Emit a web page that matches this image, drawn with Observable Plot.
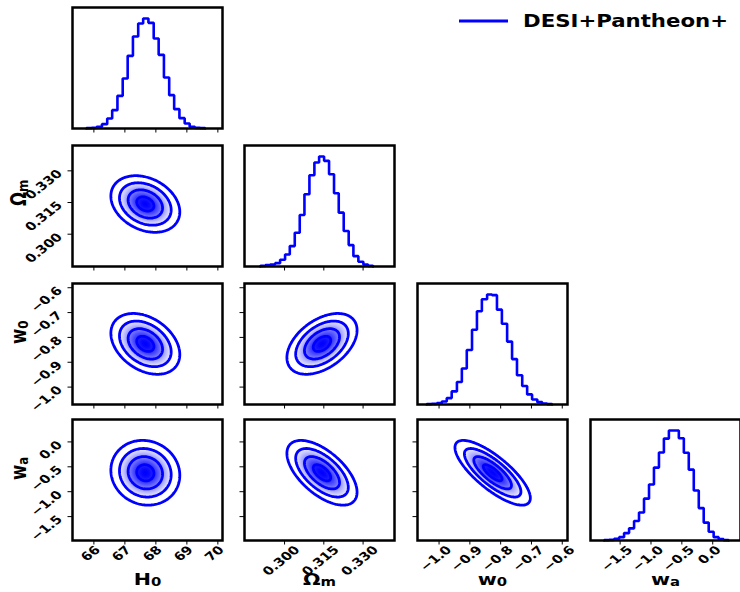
<!DOCTYPE html>
<html><head><meta charset="utf-8">
<script src="https://cdn.jsdelivr.net/npm/d3@7"></script>
<script src="https://cdn.jsdelivr.net/npm/@observablehq/plot@0.6"></script>
<style>
body{margin:0;background:#fff;}
#chart{position:relative;width:740px;height:592px;overflow:hidden;font-family:"DejaVu Sans",sans-serif;background:#fff;}
.panel{position:absolute;}
.panel svg{overflow:visible;display:block;}
</style></head><body><div id="chart"></div>
<script>
// ---------- data ----------
const paramBase = ["H", "Ω", "w", "w"];
const paramSub = ["0", "m", "0", "a"];
const domainH0 = [65.31, 70.15];
const domainOm = [0.2847, 0.3420];
const domainW0 = [-1.070, -0.583];
const domainWa = [-1.98, 0.45];
const ticksH0 = [66, 67, 68, 69, 70];
const ticksOm = [0.300, 0.315, 0.330];
const ticksW0 = [-1.0, -0.9, -0.8, -0.7, -0.6];
const ticksWa = [-1.5, -1.0, -0.5, 0.0];
const tickLabelsH0 = ["66", "67", "68", "69", "70"];
const tickLabelsOm = ["0.300", "0.315", "0.330"];
const tickLabelsW0 = ["−1.0", "−0.9", "−0.8", "−0.7", "−0.6"];
const tickLabelsWa = ["−1.5", "−1.0", "−0.5", "0.0"];

// 1D marginal histograms (bin edges and relative counts)
const edgesH0 = [65.76,65.93,66.09,66.26,66.43,66.59,66.76,66.93,67.09,67.26,67.43,67.59,67.76,67.93,68.09,68.26,68.43,68.59,68.76,68.93,69.09,69.26,69.43,69.59];
const countsH0 = [1,2,5,13,30,55,98,150,218,276,315,330,317,270,221,153,100,58,31,15,5,2,1];
const edgesOm = [0.2908,0.2927,0.2945,0.2964,0.2983,0.3002,0.3020,0.3039,0.3058,0.3076,0.3095,0.3114,0.3132,0.3151,0.3170,0.3189,0.3207,0.3226,0.3245,0.3263,0.3282,0.3301,0.3319,0.3338];
const countsOm = [2,4,6,10,20,36,61,101,154,216,273,311,329,316,276,219,161,106,64,31,14,6,2];
const edgesW0 = [-1.040,-1.024,-1.007,-0.991,-0.975,-0.959,-0.942,-0.926,-0.910,-0.893,-0.877,-0.861,-0.844,-0.828,-0.812,-0.796,-0.779,-0.763,-0.747,-0.730,-0.714,-0.698,-0.681,-0.665,-0.649,-0.633];
const countsW0 = [1,2,4,9,19,39,67,107,162,222,277,313,327,325,282,240,187,135,87,55,30,15,7,3,1];
const edgesWa = [-1.758,-1.677,-1.597,-1.516,-1.436,-1.355,-1.274,-1.194,-1.113,-1.032,-0.952,-0.871,-0.791,-0.710,-0.629,-0.549,-0.468,-0.388,-0.307,-0.226,-0.146,-0.065,0.015,0.096,0.176,0.257];
const countsWa = [1,2,5,10,22,36,58,83,124,166,216,261,302,326,326,303,260,210,148,96,53,26,10,4,1];

// 2D posterior summary (centre, width, correlation)
const means = [67.66, 0.3143, -0.826, -0.62];
const sigmas = [0.556, 0.0067, 0.0612, 0.325];
const pairX = [0, 0, 0, 1, 1, 2];
const pairY = [1, 2, 3, 2, 3, 3];
const pairRho = [-0.28, -0.35, -0.08, 0.45, -0.6, -0.78];
const sigmaLevels = [0.5, 1, 1.5, 2];

const legendLabel = "DESI+Pantheon+";

// ---------- layout ----------
const domains = [domainH0, domainOm, domainW0, domainWa];
const ticks = [ticksH0, ticksOm, ticksW0, ticksWa];
const tickLabels = [tickLabelsH0, tickLabelsOm, tickLabelsW0, tickLabelsWa];
const edges = [edgesH0, edgesOm, edgesW0, edgesWa];
const counts = [countsH0, countsOm, countsW0, countsWa];
const colLeft = [72, 244.3, 416.7, 590];
const rowTop = [6.7, 144.7, 282.7, 419.4];
const PW = 150, PH = 121;
const BLUE = "#0000ff";
const FS = 11.5, STRETCH = 1.25, TITLE_FS = 16.5;

const ctx = document.createElement("canvas").getContext("2d");
ctx.font = `bold ${FS}px "DejaVu Sans"`;
function ext(label) { return (ctx.measureText(label).width + 0.73 * FS) * Math.SQRT1_2; }

function density(i, j, rho) {
  const mx = means[i], my = means[j], sx = sigmas[i], sy = sigmas[j];
  return (x, y) => {
    const u = (x - mx) / sx, v = (y - my) / sy;
    return Math.exp(-0.5 * (u * u - 2 * rho * u * v + v * v) / (1 - rho * rho));
  };
}
function stepPoints(e, c) {
  const pts = [{x: e[0], y: 0}];
  c.forEach((v, k) => pts.push({x: e[k], y: v}));
  pts.push({x: e[c.length], y: c[c.length - 1]});
  pts.push({x: e[c.length], y: 0});
  return pts;
}

const chart = document.getElementById("chart");
const textStyle = {fontSize: FS, fontWeight: "bold", fill: "black", fontFamily: "DejaVu Sans"};

function panel(r, c) {
  const marks = [];
  const xd = domains[c];
  const isHist = r === c;
  let yd;
  if (isHist) {
    yd = [0, 1.1 * d3.max(counts[r])];
    marks.push(Plot.line(stepPoints(edges[r], counts[r]), {x: "x", y: "y", curve: "step-after", stroke: BLUE, strokeWidth: 2.6, strokeLinejoin: "miter"}));
  } else {
    yd = domains[r];
    const k = pairX.findIndex((px, q) => px === c && pairY[q] === r);
    const f = density(c, r, pairRho[k]);
    marks.push(Plot.raster({x1: xd[0], x2: xd[1], y1: yd[0], y2: yd[1], pixelSize: 1,
      fill: (x, y) => Math.max(0, (f(x, y) - 0.28) / 0.72)}));
    marks.push(Plot.contour({x1: xd[0], x2: xd[1], y1: yd[0], y2: yd[1], pixelSize: 1, value: f,
      thresholds: sigmaLevels.map(s => Math.exp(-0.5 * s * s)), fill: "none", stroke: BLUE, strokeWidth: 2.8}));
  }
  marks.push(Plot.frame({stroke: "black", strokeWidth: 2.5}));
  if (r === 3) {
    ticks[c].forEach((v, q) => {
      const t = tickLabels[c][q];
      marks.push(Plot.text([v], {x: d => d, frameAnchor: "bottom", text: () => t, rotate: -45, textAnchor: "middle", dy: 7 + ext(t) / 2, ...textStyle}));
    });
    marks.push(Plot.text([c], {frameAnchor: "bottom", text: () => paramBase[c] + paramSub[c], dy: 44, fontSize: TITLE_FS, fontWeight: "bold", fill: "black", className: "axtitle", rotate: 0}));
  }
  if (c === 0 && r > 0) {
    ticks[r].forEach((v, q) => {
      const t = tickLabels[r][q];
      const e = ext(t);
      marks.push(Plot.text([v], {y: d => d, frameAnchor: "left", text: () => t, rotate: -45, textAnchor: "middle", dx: -(9 + STRETCH * e / 2), dy: -2 + e / 2, ...textStyle}));
    });
    marks.push(Plot.text([r], {frameAnchor: "left", text: () => paramBase[r] + paramSub[r], rotate: -90, dx: -53.5, fontSize: TITLE_FS, fontWeight: "bold", fill: "black", className: "axtitle"}));
  }
  const svg = Plot.plot({
    width: PW, height: PH, margin: 0,
    style: {overflow: "visible", background: "transparent", fontFamily: "DejaVu Sans"},
    x: {domain: xd, ticks: ticks[c], tickSize: 4.5, tickFormat: () => "", label: null},
    y: isHist ? {domain: yd, axis: null} : {domain: yd, ticks: ticks[r], tickSize: 4.5, tickFormat: () => "", label: null},
    color: {type: "linear", domain: [0, 1], range: ["#ffffff", BLUE]},
    marks
  });
  // subscripts in axis titles
  svg.querySelectorAll("g.axtitle text").forEach(t => {
    const full = t.textContent;
    const idx = paramBase.findIndex((b, q) => b + paramSub[q] === full);
    t.textContent = "";
    const a = document.createElementNS("http://www.w3.org/2000/svg", "tspan");
    a.textContent = paramBase[idx];
    const b = document.createElementNS("http://www.w3.org/2000/svg", "tspan");
    b.textContent = paramSub[idx];
    b.setAttribute("font-size", "72%");
    b.setAttribute("dy", "0.16em");
    t.appendChild(a); t.appendChild(b);
  });
  // the reference figure is horizontally stretched; apply the same to its text
  svg.querySelectorAll("text").forEach(t => {
    const tr = t.getAttribute("transform");
    if (tr && /translate\(/.test(tr)) {
      t.setAttribute("transform", tr.replace(/(translate\([^)]*\))/, `$1 scale(${STRETCH},1)`));
    } else if (t.textContent) {
      const x = +t.getAttribute("x") || 0, y = +t.getAttribute("y") || 0;
      t.removeAttribute("x"); t.removeAttribute("y");
      t.setAttribute("transform", `translate(${x},${y}) scale(${STRETCH},1)${tr ? " " + tr : ""}`);
    }
  });
  const div = document.createElement("div");
  div.className = "panel";
  div.style.left = colLeft[c] + "px";
  div.style.top = rowTop[r] + "px";
  div.appendChild(svg);
  chart.appendChild(div);
}

for (let r = 0; r < 4; r++) for (let c = 0; c <= r; c++) panel(r, c);

// legend
const leg = d3.select(chart).append("svg").attr("width", 300).attr("height", 40)
  .style("position", "absolute").style("left", "440px").style("top", "0px");
leg.append("line").attr("x1", 19).attr("x2", 68).attr("y1", 21).attr("y2", 21).attr("stroke", BLUE).attr("stroke-width", 3);
leg.append("text").attr("x", 83).attr("y", 27.3).attr("font-size", 17).attr("font-weight", "bold")
  .attr("font-family", "DejaVu Sans").attr("textLength", 205).attr("lengthAdjust", "spacingAndGlyphs").text(legendLabel);
</script></body></html>
